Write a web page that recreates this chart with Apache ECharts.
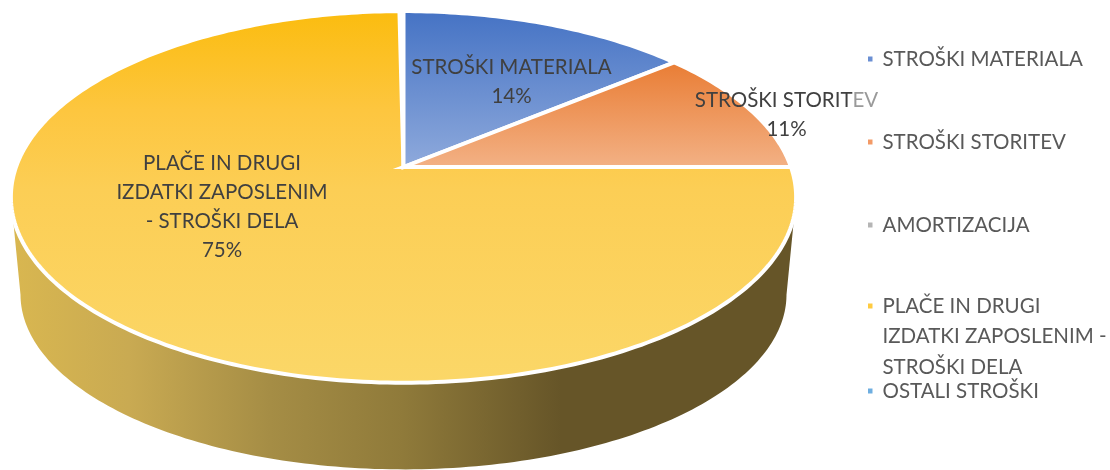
<!DOCTYPE html>
<html><head><meta charset="utf-8">
<style>html,body{margin:0;padding:0;background:#fff}#c{width:1110px;height:470px}</style>
<script src="https://cdn.jsdelivr.net/npm/echarts@6/dist/echarts.min.js"></script>
</head><body><div id="c"></div>
<script>
const categories = ['STROŠKI MATERIALA','STROŠKI STORITEV','AMORTIZACIJA','PLAČE IN DRUGI IZDATKI ZAPOSLENIM - STROŠKI DELA','OSTALI STROŠKI'];
const values = [14, 11, 0, 75, 0];

// perspective view of the disc
const TOP = {cx:403.5, cy:167, A:387.5, B:181, k:0.161};
const BOT = {cx:403.5, cy:266.4, A:378, B:170.3, k:0.161};
const FONT = 'Lato, Carlito, sans-serif';
const total = values.reduce((a,b)=>a+b,0);
const project = (p, deg) => {
  const t = deg*Math.PI/180, u = Math.sin(t), v = -Math.cos(t), w = 1 - p.k*v;
  return [p.cx + p.A*u/w, p.cy + p.B*v/w];
};
const styles = [
  {stops:[[0,'#4472C4'],[1,'#8FAADC']], legend:'#6A8FD3', lines:['STROŠKI MATERIALA'], at:[511.5,82], pad:[0,0]},
  {stops:[[0,'#E97C33'],[1,'#F3B286']], legend:'#F39A66', lines:['STROŠKI STORIT{g|EV}'], at:[786.5,115], pad:[0,0]},
  {stops:[[0,'#A5A5A5'],[1,'#C9C9C9']], legend:'#B5B5B5', lines:[], at:[0,0], pad:[0,0]},
  {stops:[[0,'#FBBC0E'],[0.27,'#FDC63F'],[0.48,'#FCCE55'],[1,'#FBD768']], legend:'#FFCB40', lines:['PLAČE IN DRUGI','IZDATKI ZAPOSLENIM','- STROŠKI DELA'], at:[222,207], pad:[0,0.7]},
  {stops:[[0,'#5B9BD5'],[1,'#9DC3E6']], legend:'#6EAEE0', lines:[], at:[0,0], pad:[0,0]}
];
const legendY = [59,142,225,306,391];
const legendText = ['STROŠKI MATERIALA','STROŠKI STORITEV','AMORTIZACIJA','\n\nPLAČE IN DRUGI\nIZDATKI ZAPOSLENIM -\nSTROŠKI DELA','OSTALI STROŠKI'];
const LH = 30.5;
const FS = 20.5;

let acc = 0;
const series = categories.map((name,i)=>{
  const startDeg = acc/total*360; acc += values[i];
  const endDeg = acc/total*360;
  const st = styles[i];
  return {
    type:'custom', name, coordinateSystem:'none', z: 2 + (i===3?0:1),
    itemStyle:{color:st.legend}, silent:true, animation:false,
    data:[values[i]],
    renderItem(params, api){
      const val = api.value(0);
      if(!val) return {type:'group',children:[]};
      const kids=[];
      const a0=startDeg+st.pad[0], a1=endDeg-st.pad[1];
      // side wall: only the part facing the viewer
      const sa=Math.max(a0,99.3), sb=Math.min(a1,260.7);
      if(sb>sa){
        const pts=[];
        for(let d=sa;d<sb;d+=1) pts.push(project(TOP,d));
        pts.push(project(TOP,sb));
        for(let d=sb;d>sa;d-=1) pts.push(project(BOT,d));
        pts.push(project(BOT,sa));
        kids.push({type:'polygon',z2:1,shape:{points:pts},style:{
          fill:{type:'linear',x:0,y:0,x2:1,y2:0,colorStops:[
            {offset:0,color:'#D9B750'},{offset:0.15,color:'#C9AA52'},{offset:0.33,color:'#A58D45'},{offset:0.5,color:'#8F7A3A'},{offset:0.7,color:'#665528'},{offset:1,color:'#665528'}]}}});
      }
      const face=[[TOP.cx,TOP.cy]];
      for(let d=a0;d<a1;d+=1) face.push(project(TOP,d));
      face.push(project(TOP,a1));
      kids.push({type:'polygon',z2:2,shape:{points:face},style:{
        fill:{type:'linear',x:0,y:0,x2:0,y2:1,colorStops:st.stops.map(s=>({offset:s[0],color:s[1]}))},
        stroke:'#fff',lineWidth:4,lineJoin:'miter'}});
      const pct=Math.round(val/total*100)+'%';
      kids.push({type:'text',z2:50,style:{
        text:st.lines.concat(pct).join('\n'),x:st.at[0],y:st.at[1],align:'center',verticalAlign:'middle',
        fill:'#404040',fontFamily:FONT,fontSize:FS,lineHeight:29,
        rich:{g:{fill:'#9A9A9A',fontFamily:FONT,fontSize:FS,lineHeight:29}}}});
      return {type:'group',children:kids};
    }
  };
});
const legends = categories.map((name,i)=>{
  const lines=legendText[i].split('\n').length;
  return {
    orient:'vertical',left:868,top:legendY[i]-lines*LH/2,padding:0,itemWidth:4.5,itemHeight:5,selectedMode:false,icon:'rect',
    data:[name],formatter:()=>legendText[i],
    textStyle:{color:'#595959',fontFamily:FONT,fontSize:FS,lineHeight:LH,padding:[0,0,0,5]}
  };
});
const chart=echarts.init(document.getElementById('c'),null,{renderer:'canvas'});
chart.setOption({animation:false,backgroundColor:'#fff',legend:legends,series});
</script></body></html>
